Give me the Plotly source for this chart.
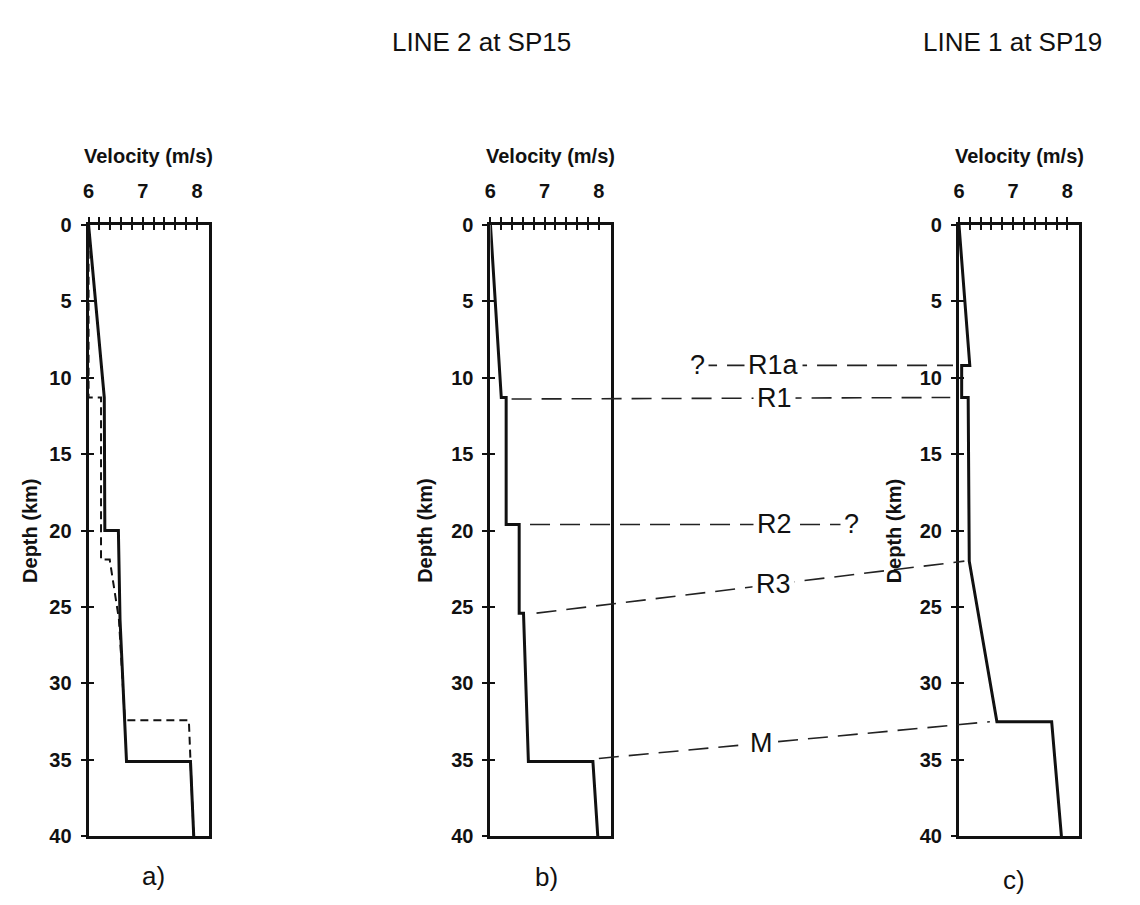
import plotly.graph_objects as go

FONT = "Liberation Sans, Arial, sans-serif"
INK = "#111111"

# Axis extents shared by the three velocity-depth panels
V_MIN, V_MAX = 6.0, 8.22
D_MAX = 40.0
vel_ticks = [6.0, 6.2, 6.4, 6.6, 6.8, 7.0, 7.2, 7.4, 7.6, 7.8, 8.0]
vel_tick_text = ["6", "", "", "", "", "7", "", "", "", "", "8"]
depth_ticks = [0, 5, 10, 15, 20, 25, 30, 35, 40]

# a) two velocity models, LINE 2 at SP15
a_solid_vel = [6.0, 6.29, 6.30, 6.55, 6.58, 6.70, 7.88, 7.94]
a_solid_depth = [0.0, 11.3, 20.0, 20.0, 25.8, 35.1, 35.1, 40.0]
a_dash_vel = [6.0, 6.0, 6.23, 6.23, 6.39, 6.56, 6.67, 7.85, 7.88, 7.94]
a_dash_depth = [0.0, 11.3, 11.3, 21.9, 21.9, 25.8, 32.4, 32.4, 35.1, 40.0]

# b) velocity model, LINE 2 at SP15
b_vel = [6.0, 6.20, 6.29, 6.29, 6.53, 6.53, 6.61, 6.70, 7.89, 7.98]
b_depth = [0.0, 11.3, 11.3, 19.6, 19.6, 25.4, 25.4, 35.1, 35.1, 40.0]

# c) velocity model, LINE 1 at SP19
c_vel = [6.0, 6.20, 6.05, 6.05, 6.17, 6.19, 6.70, 7.71, 7.89]
c_depth = [0.0, 9.2, 9.2, 11.3, 11.3, 22.0, 32.5, 32.5, 40.0]

# Reflector correlation between panel b (left end) and panel c (right end)
horizon_names = ["R1a", "R1", "R2", "R3", "M"]
horizon_b_vel = [6.25, 6.39, 6.73, 6.85, 8.00]
horizon_b_depth = [9.2, 11.4, 19.6, 25.4, 34.9]
horizon_c_vel = [5.89, 5.84, 5.85, 6.10, 6.57]
horizon_c_depth = [9.2, 11.3, 19.6, 22.0, 32.5]
horizon_from = [0.43, 0.0, 0.0, 0.0, 0.0]
horizon_to = [1.0, 1.0, 0.764, 1.0, 1.0]
horizon_label_at = [0.60, 0.60, 0.58, 0.555, 0.417]
query_names = ["R1a", "R2"]
query_at = [0.43, 0.764]

panel_letters = ["a)", "b)", "c)"]
panel_titles = {"LINE 2 at SP15": 478, "LINE 1 at SP19": 1012}

W, H = 1140, 905
x_px = [(83, 204), (487, 608), (958, 1079)]
y_px = (219, 846)
x_dom = [(a / W, b / W) for a, b in x_px]
y_dom = (1 - y_px[1] / H, 1 - y_px[0] / H)


def to_paper(i, v, d):
    x0, x1 = x_dom[i]
    y0, y1 = y_dom
    return (x0 + (v - V_MIN) / (V_MAX - V_MIN) * (x1 - x0),
            y1 - d / D_MAX * (y1 - y0))


fig = go.Figure()

solid = dict(color=INK, width=3)
fig.add_trace(go.Scatter(x=a_solid_vel, y=a_solid_depth, mode="lines",
                         line=solid, xaxis="x", yaxis="y"))
fig.add_trace(go.Scatter(x=a_dash_vel, y=a_dash_depth, mode="lines",
                         line=dict(color=INK, width=2, dash="8px,5px"),
                         xaxis="x", yaxis="y"))
fig.add_trace(go.Scatter(x=b_vel, y=b_depth, mode="lines", line=solid,
                         xaxis="x2", yaxis="y2"))
fig.add_trace(go.Scatter(x=c_vel, y=c_depth, mode="lines", line=solid,
                         xaxis="x3", yaxis="y3"))

layout = dict(width=W, height=H, margin=dict(l=0, r=0, t=0, b=0),
              paper_bgcolor="white", plot_bgcolor="white", showlegend=False,
              font=dict(family=FONT, color=INK))

tickfont = dict(family=FONT, size=20, color=INK, weight="bold")
for i in range(3):
    n = "" if i == 0 else str(i + 1)
    ov = str(i + 4)
    layout["xaxis" + n] = dict(
        domain=x_dom[i], range=[V_MIN, V_MAX], side="top", anchor="y" + n,
        showline=True, mirror=True, linewidth=3, linecolor=INK,
        ticks="outside", ticklen=5, tickwidth=2, tickcolor=INK,
        tickvals=vel_ticks, ticktext=vel_tick_text, tickfont=tickfont,
        ticklabelstandoff=11, showgrid=False, zeroline=False, fixedrange=True)
    layout["yaxis" + n] = dict(
        domain=y_dom, range=[D_MAX, 0], anchor="x" + n,
        showline=True, mirror=True, linewidth=3, linecolor=INK,
        ticks="outside", ticklen=5, tickwidth=2, tickcolor=INK,
        tickvals=depth_ticks, tickfont=tickfont, ticklabelstandoff=5,
        showgrid=False, zeroline=False, fixedrange=True)
    # inward half of the crossing tick marks
    layout["xaxis" + ov] = dict(
        overlaying="x" + n, range=[V_MIN, V_MAX], side="top", anchor="y" + ov,
        showline=False, ticks="inside", ticklen=5, tickwidth=2, tickcolor=INK,
        tickvals=vel_ticks, showticklabels=False, showgrid=False,
        zeroline=False, fixedrange=True)
    layout["yaxis" + ov] = dict(
        overlaying="y" + n, range=[D_MAX, 0], side="left", anchor="x" + ov,
        showline=False, ticks="inside", ticklen=5, tickwidth=2, tickcolor=INK,
        tickvals=depth_ticks, showticklabels=False, showgrid=False,
        zeroline=False, fixedrange=True)
    fig.add_trace(go.Scatter(x=[], y=[], xaxis="x" + ov, yaxis="y" + ov,
                             hoverinfo="skip"))

fig.update_layout(**layout)

shapes = []
annotations = []

# correlation lines between the b and c profiles
for k, name in enumerate(horizon_names):
    xs, ys = to_paper(1, horizon_b_vel[k], horizon_b_depth[k])
    xe, ye = to_paper(2, horizon_c_vel[k], horizon_c_depth[k])

    def at(f):
        return xs + f * (xe - xs), ys + f * (ye - ys)

    p0, p1 = at(horizon_from[k]), at(horizon_to[k])
    shapes.append(dict(type="line", xref="paper", yref="paper",
                       x0=p0[0], y0=p0[1], x1=p1[0], y1=p1[1],
                       line=dict(color="#222222", width=1.6, dash="20px,10px")))
    lx, ly = at(horizon_label_at[k])
    annotations.append(dict(x=lx, y=ly, xref="paper", yref="paper", text=name,
                            showarrow=False, bgcolor="white", borderpad=3,
                            font=dict(family=FONT, size=27, color=INK),
                            xanchor="center", yanchor="middle"))
    if name in query_names:
        qx, qy = at(query_at[query_names.index(name)])
        annotations.append(dict(x=qx, y=qy, xref="paper", yref="paper", text="?",
                                showarrow=False, bgcolor="white", borderpad=3,
                                font=dict(family=FONT, size=27, color=INK),
                                xanchor="center", yanchor="middle"))

# axis titles and panel letters
depth_title_x = [24, 421, 893]
letter_pos = [(148, 887), (543, 888), (1013, 891)]
for i in range(3):
    cx = (x_px[i][0] + x_px[i][1]) / 2
    annotations.append(dict(x=cx / W, y=1 - 149 / H, xref="paper", yref="paper",
                            text="Velocity (m/s)", showarrow=False,
                            font=dict(family=FONT, size=20, color=INK, weight="bold"),
                            xanchor="center", yanchor="middle"))
    annotations.append(dict(x=depth_title_x[i] / W, y=1 - 533 / H, xref="paper",
                            yref="paper", text="Depth (km)", showarrow=False,
                            textangle=-90,
                            font=dict(family=FONT, size=20, color=INK, weight="bold"),
                            xanchor="center", yanchor="middle"))
    lx, ly = letter_pos[i]
    annotations.append(dict(x=lx / W, y=1 - ly / H, xref="paper", yref="paper",
                            text=panel_letters[i], showarrow=False,
                            font=dict(family=FONT, size=26, color=INK),
                            xanchor="center", yanchor="middle"))

for title, cx in panel_titles.items():
    annotations.append(dict(x=cx / W, y=1 - 32 / H, xref="paper", yref="paper",
                            text=title, showarrow=False,
                            font=dict(family=FONT, size=26, color=INK),
                            xanchor="center", yanchor="middle"))

fig.update_layout(shapes=shapes, annotations=annotations)
fig.write_html("out.html")
